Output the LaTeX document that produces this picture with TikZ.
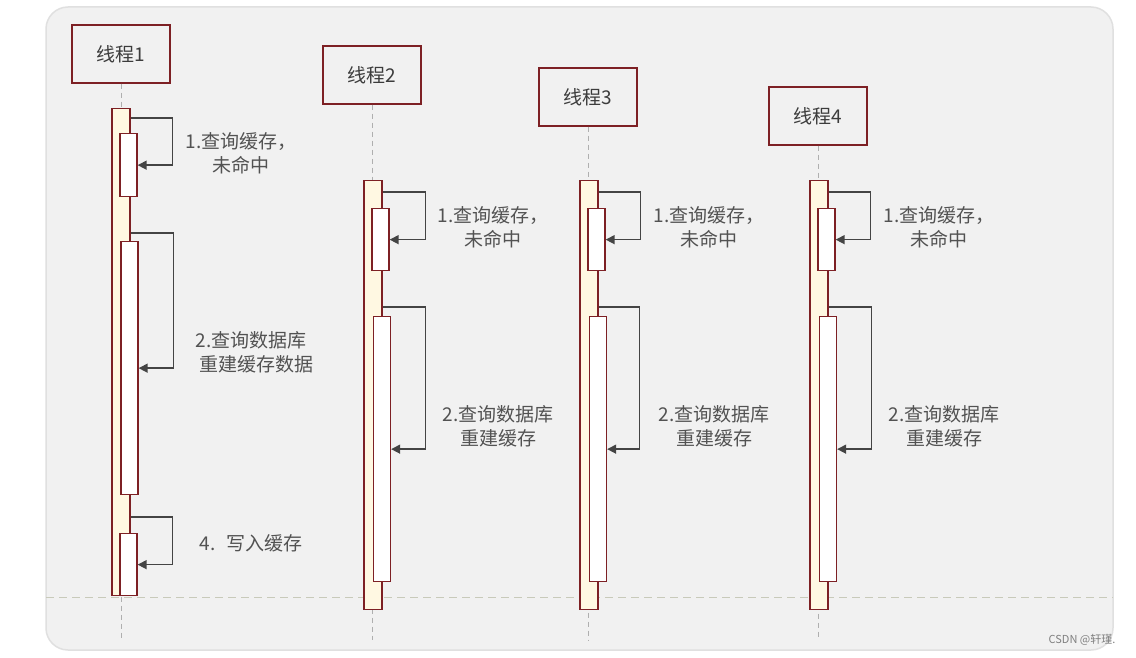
\documentclass[tikz,border=0pt]{standalone}
\usepackage{fontspec}
\setmainfont{Noto Sans CJK SC}
\usepackage{tikz}
\usetikzlibrary{arrows.meta, positioning, calc}
\definecolor{lifered}{RGB}{125,32,36}
\definecolor{barcream}{RGB}{255,248,226}
\definecolor{panelgray}{RGB}{241,241,241}
\definecolor{panelrim}{RGB}{224,224,224}
\definecolor{calldark}{RGB}{68,68,68}
\definecolor{labelgray}{RGB}{82,82,82}
\definecolor{headgray}{RGB}{60,60,60}
\definecolor{dashgray}{RGB}{175,175,175}
\definecolor{guidegreen}{RGB}{200,202,186}
\tikzset{
  thread/.style={rectangle,draw=lifered,line width=1.4pt,minimum width=98pt,minimum height=58pt,
    inner sep=0pt,font=\fontsize{19}{23}\selectfont,text=headgray},
  actbar/.style={rectangle,draw=lifered,fill=barcream,line width=1.3pt,minimum width=18pt,inner sep=0pt,anchor=north},
  subbar/.style={rectangle,draw=lifered,fill=white,line width=1.3pt,minimum width=17pt,inner sep=0pt,anchor=north},
  selfcall/.style={-{Triangle[length=9pt,width=9pt]},line width=1.4pt,color=calldark},
  lifeline/.style={dash pattern=on 5pt off 4pt,line width=1pt,color=dashgray},
  guide/.style={dash pattern=on 8pt off 5pt,line width=1pt,color=guidegreen},
  note/.style={align=center,font=\fontsize{19}{24}\selectfont,text=labelgray,inner sep=0pt}
}

\begin{document}
\begin{tikzpicture}[x=1pt,y=-1pt]
  % page and panel
  \fill[white] (0,0) rectangle (1136,658);
  \useasboundingbox (0,0) rectangle (1136,658);
  \draw[panelrim,fill=panelgray,line width=1.5pt,rounded corners=22pt] (46,7) rectangle (1113,650);

  % thread heads
  \node[thread] (h1) at (121,54) {线程1};
  \node[thread] (h2) at (372,75) {线程2};
  \node[thread] (h3) at (588,97) {线程3};
  \node[thread] (h4) at (818,116) {线程4};

  % lifelines
  \coordinate (e1) at (121,638);
  \coordinate (e2) at (372,640);
  \coordinate (e3) at (588,640);
  \coordinate (e4) at (818,640);
  \draw[lifeline] (h1) -- (e1);
  \draw[lifeline] (h2) -- (e2);
  \draw[lifeline] (h3) -- (e3);
  \draw[lifeline] (h4) -- (e4);

  % dashed guide line
  \coordinate (gl) at (46,597);
  \coordinate (gr) at (1113,597);
  \draw[guide] (gl) -- (gr);

  % thread 1
  \node[actbar,minimum height=487pt] (a1) at (121,108) {};
  \node[subbar,minimum height=63pt] (s11) at (128.5,133) {};
  \node[subbar,minimum height=253pt] (s12) at (129.5,241) {};
  \node[subbar,minimum height=62pt] (s13) at (128.5,533) {};
  \draw[selfcall] ($(s11.north -| a1.east)+(0,-15)$) -- ++(42,0) |- (s11.east);
  \draw[selfcall] ($(s12.north -| a1.east)+(0,-8)$) -- ++(43,0) |- (s12.east);
  \draw[selfcall] ($(s13.north -| a1.east)+(0,-16)$) -- ++(42,0) |- (s13.east);
  \node[note] (n11) at (241,153) {1.查询缓存，\\未命中};
  \node[note] (n12) at (251,352) {2.查询数据库\\\hspace{10pt}重建缓存数据};
  \node[note] (n14) at (251,543) {4.\hspace{0.55em}写入缓存};

  % thread 2
  \node[actbar,minimum height=429pt] (a2) at (373,180) {};
  \node[subbar,minimum height=62pt] (s21) at (380.5,208) {};
  \node[subbar,minimum height=265pt] (s22) at (382,316) {};
  \draw[selfcall] ($(s21.north -| a2.east)+(0,-16)$) -- ++(43,0) |- (s21.east);
  \draw[selfcall] ($(s22.north -| a2.east)+(0,-9)$) -- ++(43,0) |- (s22.east);
  \node[note] (n21) at (493,227) {1.查询缓存，\\未命中};
  \node[note] (n22) at (498,426) {2.查询数据库\\重建缓存};

  % thread 3
  \node[actbar,minimum height=429pt] (a3) at (589,180) {};
  \node[subbar,minimum height=62pt] (s31) at (596.5,208) {};
  \node[subbar,minimum height=265pt] (s32) at (598,316) {};
  \draw[selfcall] ($(s31.north -| a3.east)+(0,-16)$) -- ++(42,0) |- (s31.east);
  \draw[selfcall] ($(s32.north -| a3.east)+(0,-9)$) -- ++(41,0) |- (s32.east);
  \node[note] (n31) at (709,227) {1.查询缓存，\\未命中};
  \node[note] (n32) at (714,426) {2.查询数据库\\重建缓存};

  % thread 4
  \node[actbar,minimum height=429pt] (a4) at (819,180) {};
  \node[subbar,minimum height=62pt] (s41) at (826.5,208) {};
  \node[subbar,minimum height=265pt] (s42) at (828,316) {};
  \draw[selfcall] ($(s41.north -| a4.east)+(0,-16)$) -- ++(42,0) |- (s41.east);
  \draw[selfcall] ($(s42.north -| a4.east)+(0,-9)$) -- ++(43,0) |- (s42.east);
  \node[note] (n41) at (939,227) {1.查询缓存，\\未命中};
  \node[note] (n42) at (944,426) {2.查询数据库\\重建缓存};

  % watermark
  \node[font=\fontsize{11}{13}\selectfont,text=gray,inner sep=0pt] (mark) at (1082,640) {CSDN @轩瑾.};
\end{tikzpicture}
\end{document}
